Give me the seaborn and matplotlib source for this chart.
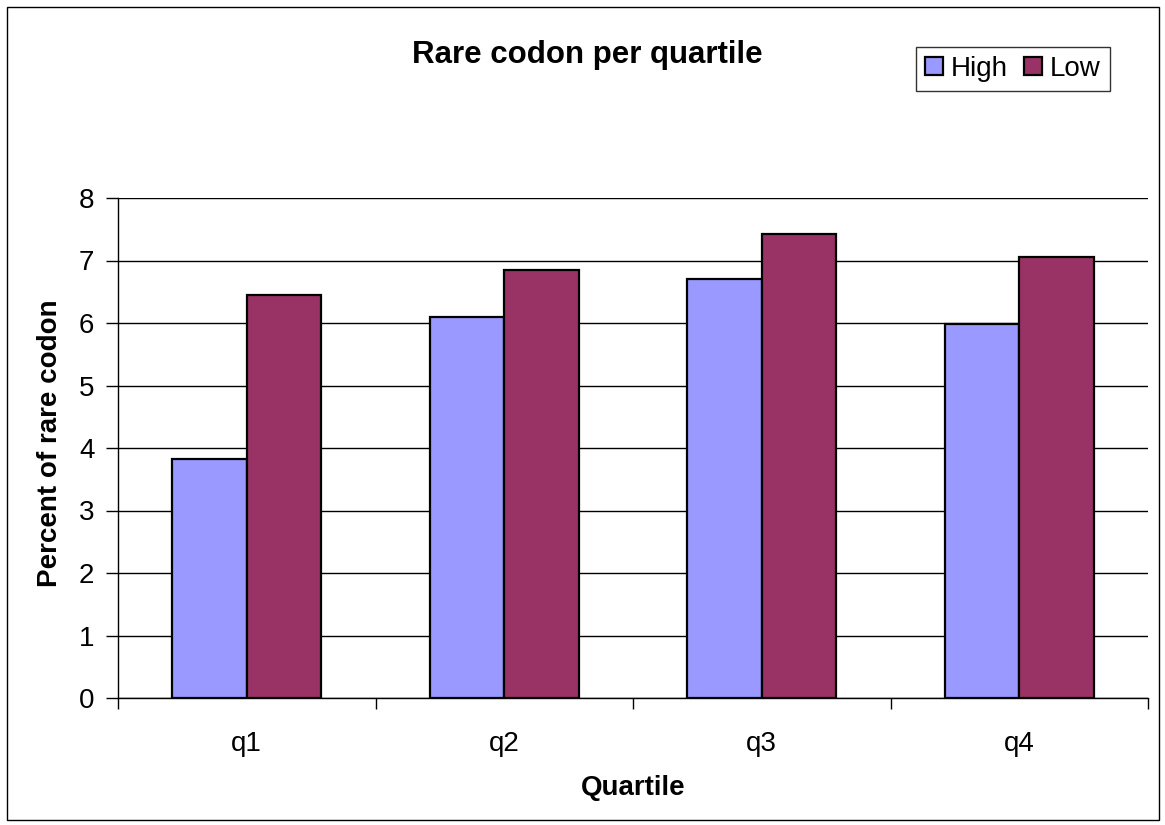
import numpy as np
import pandas as pd
import matplotlib
matplotlib.use("Agg")
import matplotlib.pyplot as plt
import seaborn as sns
from matplotlib.patches import Rectangle

quartiles = ["q1", "q2", "q3", "q4"]
high = [3.83, 6.09, 6.71, 5.99]
low = [6.45, 6.85, 7.42, 7.06]
groups = ["High", "Low"]

df = pd.DataFrame({
    "Quartile": quartiles * 2,
    "value": high + low,
    "group": ["High"] * 4 + ["Low"] * 4,
})

sns.set_style("white")
plt.rcParams["font.family"] = ["Liberation Sans", "DejaVu Sans"]
plt.rcParams.update({"text.color": "black", "axes.labelcolor": "black",
                     "xtick.color": "black", "ytick.color": "black"})

fig = plt.figure(figsize=(11.65, 8.25), dpi=100)
ax = fig.add_axes([118 / 1165, 1 - 698 / 825, 1030 / 1165, 500 / 825])

sns.barplot(data=df, x="Quartile", y="value", hue="group", hue_order=groups,
            palette=["#9999FF", "#993366"], width=0.58, gap=0,
            edgecolor="black", linewidth=1.6, saturation=1, ax=ax, zorder=3)

ax.set_ylim(0, 8)
ax.set_xlim(-0.5, 3.5)
ax.set_yticks(range(0, 9))
ax.yaxis.grid(True, color="black", linewidth=1)
ax.set_axisbelow(True)
for s in ["top", "right"]:
    ax.spines[s].set_visible(False)
for s in ["left", "bottom"]:
    ax.spines[s].set_color("black")
    ax.spines[s].set_linewidth(1)

ax.set_xticks(np.arange(-0.5, 4, 1), minor=True)
ax.tick_params(axis="x", which="major", length=0, labelsize=20, pad=24)
ax.tick_params(axis="x", which="minor", length=8, direction="out", color="black",
               width=1, bottom=True)
ax.tick_params(axis="y", length=9, direction="out", color="black", width=1,
               labelsize=20, pad=8, left=True)

ax.set_xlabel("Quartile", fontsize=20, fontweight="bold", va="center")
ax.xaxis.set_label_coords(0.5, (698 - 788) / 500)
ax.set_ylabel("Percent of rare codon", fontsize=20, fontweight="bold", va="center")
ax.yaxis.set_label_coords((50 - 118) / 1030, (698 - 443) / 500)

fig.text(587 / 1165, 1 - 55 / 825, "Rare codon per quartile", fontsize=22.5,
         fontweight="bold", ha="center", va="center")

ax.legend(loc="upper left", bbox_to_anchor=(916 / 1165, 1 - 47 / 825),
          bbox_transform=fig.transFigure, ncol=2, frameon=True, fancybox=False,
          edgecolor="black", fontsize=20, handlelength=0.65, handleheight=0.65,
          handletextpad=0.28, columnspacing=0.6, borderpad=0.32, borderaxespad=0)
ax.get_legend().get_frame().set_linewidth(1)

fig.patches.append(Rectangle((7 / 1165, 5 / 825), 1152 / 1165, 813 / 825,
                             transform=fig.transFigure, fill=False,
                             edgecolor="black", linewidth=1))

fig.savefig("out.png", dpi=100)
